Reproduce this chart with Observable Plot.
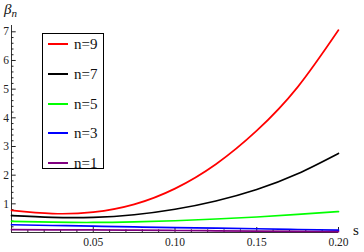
<!DOCTYPE html>
<html><head><meta charset="utf-8">
<script src="https://cdn.jsdelivr.net/npm/d3@7"></script>
<script src="https://cdn.jsdelivr.net/npm/@observablehq/plot@0.6"></script>
<style>
body{margin:0;background:#fff;}
#wrap{position:relative;width:364px;height:252px;font-family:"Liberation Serif","Times New Roman",Times,"DejaVu Serif",serif;color:#111;}
#wrap svg text{font-family:"Liberation Serif","Times New Roman",Times,"DejaVu Serif",serif;}
#legend{position:absolute;left:42px;top:33px;width:60px;height:134px;border:1px solid #000;background:#fff;}
.item{position:absolute;left:0;width:60px;height:20px;}
.item .sw{position:absolute;left:5px;top:9px;width:20px;height:2px;}
.item .lb{position:absolute;left:31px;top:0;line-height:20px;font-size:15px;}
.axlab{position:absolute;}
</style></head><body><div id="wrap"></div>
<script>
const sValues = [0, 0.025, 0.05, 0.075, 0.1, 0.125, 0.15, 0.175, 0.2];
const beta9 = [0.77, 0.66, 0.71, 0.98, 1.53, 2.38, 3.55, 5.07, 7.06];
const beta7 = [0.59, 0.53, 0.53, 0.62, 0.81, 1.10, 1.50, 2.05, 2.76];
const beta5 = [0.39, 0.36, 0.35, 0.37, 0.41, 0.47, 0.54, 0.63, 0.73];
const beta3 = [0.27, 0.245, 0.22, 0.195, 0.17, 0.15, 0.13, 0.105, 0.08];
const beta1 = [0.10, 0.095, 0.09, 0.08, 0.07, 0.06, 0.05, 0.04, 0.03];
const seriesNames = ["n=9", "n=7", "n=5", "n=3", "n=1"];
const seriesColors = ["#ff0000", "#000000", "#00ff00", "#0000ff", "#800080"];
const yTickValues = [1, 2, 3, 4, 5, 6, 7];
const xTickValues = [0.05, 0.10, 0.15, 0.20];
const xTickLabels = ["0.05", "0.10", "0.15", "0.20"];

const seriesData = [beta9, beta7, beta5, beta3, beta1];
const rows = [];
seriesData.forEach((arr, i) => arr.forEach((v, j) => rows.push({s: sValues[j], beta: v, n: seriesNames[i]})));
const yMinor = d3.range(0, 36).map(k => k * 0.2).filter(v => Math.abs(v - Math.round(v)) > 1e-6);
const xMinor = d3.range(1, 21).map(k => k * 0.01).filter(v => Math.abs(v * 20 - Math.round(v * 20)) > 1e-6);
const serif = "'Liberation Serif', 'Times New Roman', Times, 'DejaVu Serif', serif";

const plot = Plot.plot({
  width: 364, height: 252,
  marginLeft: 11, marginRight: 26, marginTop: 25, marginBottom: 20,
  x: {domain: [0, 0.2]},
  y: {domain: [0, 7.22]},
  color: {domain: seriesNames, range: seriesColors},
  style: {fontFamily: serif, fontSize: "11.5px", color: "#222", background: "white"},
  marks: [
    Plot.ruleX([0], {stroke: "#333"}),
    Plot.ruleY([0], {stroke: "#333"}),
    Plot.axisY(yMinor, {tickSize: -2.5, text: null, label: null}),
    Plot.axisY(yTickValues, {tickSize: -4.7, text: null, label: null}),
    Plot.axisY(yTickValues, {tickSize: 0, tickPadding: 2.5, tickFormat: d => String(d), label: null}),
    Plot.axisX(xMinor, {tickSize: -2.7, text: null, label: null}),
    Plot.axisX(xTickValues, {tickSize: -5, text: null, label: null}),
    Plot.axisX(xTickValues, {tickSize: 0, tickPadding: 5, tickFormat: d => xTickLabels[xTickValues.indexOf(d)], label: null}),
    Plot.line(rows, {x: "s", y: "beta", z: "n", stroke: "n", strokeWidth: 1.7, curve: "natural"})
  ]
});
const wrap = document.getElementById("wrap");
wrap.appendChild(plot);

const legend = document.createElement("div");
legend.id = "legend";
seriesNames.forEach((name, i) => {
  const it = document.createElement("div");
  it.className = "item";
  it.style.top = (0 + i * 29.8) + "px";
  const sw = document.createElement("div");
  sw.className = "sw";
  sw.style.background = seriesColors[i];
  const lb = document.createElement("div");
  lb.className = "lb";
  lb.textContent = name;
  it.appendChild(sw); it.appendChild(lb);
  legend.appendChild(it);
});
wrap.appendChild(legend);

const ylab = document.createElement("div");
ylab.className = "axlab";
ylab.style.left = "4px"; ylab.style.top = "1px"; ylab.style.fontSize = "15px";
ylab.innerHTML = "<i>β</i><sub style='font-size:11px;vertical-align:-3px'><i>n</i></sub>";
wrap.appendChild(ylab);
const xlab = document.createElement("div");
xlab.className = "axlab";
xlab.style.left = "353px"; xlab.style.top = "222px"; xlab.style.fontSize = "15px";
xlab.textContent = "s";
wrap.appendChild(xlab);
</script>
</body></html>
